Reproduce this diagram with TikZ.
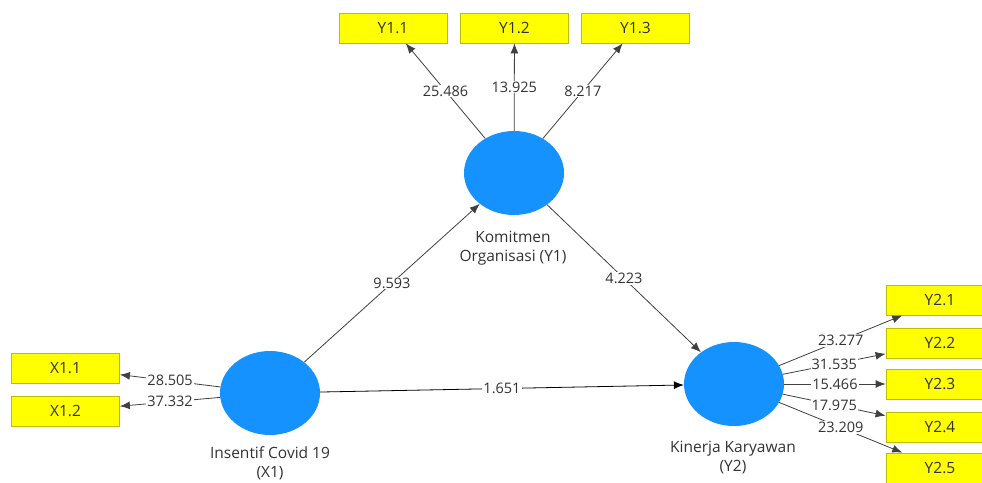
\documentclass[tikz,border=0pt]{standalone}
\usepackage{fontspec}
\setmainfont{Open Sans}
\usetikzlibrary{shapes.geometric,arrows.meta}
\definecolor{lvblue}{RGB}{22,146,255}
\definecolor{mvyellow}{RGB}{255,255,0}
\definecolor{mvedge}{RGB}{190,190,0}
\definecolor{txtgray}{RGB}{51,51,51}
\tikzset{
  latent/.style={ellipse, fill=lvblue, inner sep=0pt, minimum width=100pt, minimum height=84pt},
  indic/.style={rectangle, fill=mvyellow, draw=mvedge, line width=0.8pt, minimum width=108pt, minimum height=30pt, inner sep=0pt, text=txtgray, font=\fontsize{15.5}{19}\selectfont},
  lvname/.style={align=center, text=txtgray, inner sep=0pt, font=\fontsize{15.5}{19}\selectfont},
  val/.style={fill=white, inner sep=1pt, text=txtgray, font=\fontsize{14.5}{17}\selectfont},
  load/.style={draw=black!75, line width=0.8pt, -{Latex[length=10pt,width=8pt]}},
}

\begin{document}
\begin{tikzpicture}[x=1pt, y=-1pt]
\fill[white] (0,0) rectangle (982,482);
\useasboundingbox (0,0) rectangle (982,482);

%latent variables
\node[latent] (KO) at (514,173) {};
\node[latent] (IC) at (270,393) {};
\node[latent] (KK) at (734,384) {};
\node[lvname] (KOname) at (513,248) {Komitmen\\Organisasi (Y1)};
\node[lvname] (ICname) at (270,463) {Insentif Covid 19\\(X1)};
\node[lvname] (KKname) at (733,458) {Kinerja Karyawan\\(Y2)};

%indicators
\foreach \nm/\px/\py/\txt in {Y11/393/28/Y1.1, Y12/514.5/28/Y1.2, Y13/635.5/28/Y1.3,
    X11/65.5/368/X1.1, X12/65.5/411/X1.2,
    Y21/940/300/Y2.1, Y22/940/343/Y2.2, Y23/940/384/Y2.3, Y24/940/427/Y2.4, Y25/940/468/Y2.5}
  \node[indic] (\nm) at (\px,\py) {\txt};

%outer model
\foreach \src/\dst/\val in {KO/Y11/25.486, KO/Y12/13.925, KO/Y13/8.217,
    IC/X11/28.505, IC/X12/37.332,
    KK/Y21/23.277, KK/Y22/31.535, KK/Y23/15.466, KK/Y24/17.975, KK/Y25/23.209}
  \draw[load] (\src) -- node[val] {\val} (\dst);

%inner model
\draw[load] (IC) -- node[val] {9.593} (KO);
\draw[load] (KO) -- node[val] {4.223} (KK);
\draw[load, draw=black] (IC) -- node[val] {1.651} (KK);
\end{tikzpicture}
\end{document}
